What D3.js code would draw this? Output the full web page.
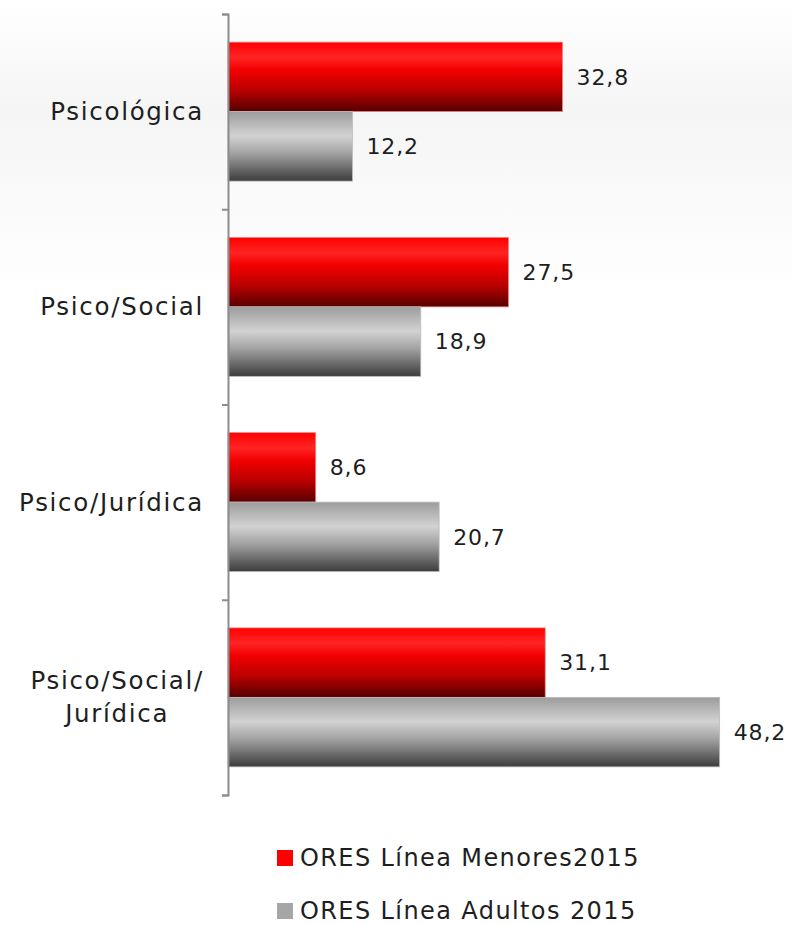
<!DOCTYPE html>
<html>
<head>
<meta charset="utf-8">
<script src="https://cdn.jsdelivr.net/npm/d3@7"></script>
<style>
  body { margin: 0; background: #fff; }
  text { font-family: "DejaVu Sans", Lato, sans-serif; fill: #1e1e1e; }
</style>
</head>
<body>
<svg></svg>
<script>
let categories = ["Psicológica", "Psico/Social", "Psico/Jurídica", "Psico/Social/\nJurídica"]
let seriesNames = ["ORES Línea Menores2015", "ORES Línea Adultos 2015"]
let menores = [32.8, 27.5, 8.6, 31.1]
let adultos = [12.2, 18.9, 20.7, 48.2]

let svgWidth = 792,
    svgHeight = 925

let svg = d3.select('svg')
    .attr('width', svgWidth)
    .attr('height', svgHeight)

let defs = svg.append('defs')

// soft grey band behind the top of the chart
let bg = defs.append('linearGradient').attr('id', 'bg')
    .attr('x1', 0).attr('y1', 0).attr('x2', 0).attr('y2', 1)
bg.append('stop').attr('offset', '0%').attr('stop-color', '#ffffff')
bg.append('stop').attr('offset', '12%').attr('stop-color', '#f5f5f5')
bg.append('stop').attr('offset', '32%').attr('stop-color', '#ffffff')
svg.append('rect')
    .attr('width', svgWidth).attr('height', svgHeight)
    .attr('fill', 'url(#bg)')

// glossy bar fills
let grads = [
    [['0%', '#ff0000'], ['22%', '#ff2424'], ['40%', '#f20000'], ['70%', '#b80000'], ['100%', '#550000']],
    [['0%', '#9c9c9c'], ['35%', '#d2d2d2'], ['60%', '#a2a2a2'], ['100%', '#3c3c3c']]
]
grads.forEach((stops, i) => {
    let g = defs.append('linearGradient').attr('id', 'bar' + i)
        .attr('x1', 0).attr('y1', 0).attr('x2', 0).attr('y2', 1)
    stops.forEach(s => g.append('stop').attr('offset', s[0]).attr('stop-color', s[1]))
})

let axisX = 228,
    plotTop = 14,
    plotBottom = 795

let x = d3.scaleLinear()
    .domain([0, 55])
    .range([axisX, axisX + 561])

let y = d3.scaleBand()
    .domain(categories)
    .range([plotTop, plotBottom])

let ySub = d3.scaleBand()
    .domain([0, 1])
    .range([0, y.bandwidth()])
    .paddingOuter(0.405)

let rows = categories.map((c, i) => ({cat: c, vals: [menores[i], adultos[i]]}))

let groups = svg.selectAll('.cat')
    .data(rows)
    .enter()
    .append('g')
    .attr('transform', d => `translate(0, ${y(d.cat)})`)

groups.selectAll('rect')
    .data(d => d.vals)
    .enter()
    .append('rect')
    .attr('x', x(0))
    .attr('y', (d, i) => ySub(i))
    .attr('width', d => x(d) - x(0))
    .attr('height', ySub.bandwidth())
    .attr('fill', (d, i) => `url(#bar${i})`)
    .attr('stroke', (d, i) => i == 0 ? '#e88' : '#bbb')
    .attr('stroke-width', 0.8)

groups.selectAll('.val')
    .data(d => d.vals)
    .enter()
    .append('text')
    .attr('x', d => x(d) + 14)
    .attr('y', (d, i) => ySub(i) + ySub.bandwidth() / 2)
    .attr('dy', '0.35em')
    .attr('font-size', 22)
    .attr('letter-spacing', 0.9)
    .text(d => String(d).replace('.', ','))

// axis with ticks on the category boundaries
let yIdx = d3.scaleLinear().domain([0, categories.length]).range([plotTop, plotBottom])
let axis = svg.append('g')
    .attr('transform', `translate(${axisX}, 0)`)
    .call(d3.axisLeft(yIdx).ticks(categories.length).tickFormat('').tickSizeOuter(0).tickSize(6))
axis.selectAll('path, line').attr('stroke', '#8c8c8c').attr('stroke-width', 2)

// category labels, multi line ones centred as a block
groups.each(function (d) {
    let lines = d.cat.split('\n')
    let t = d3.select(this).append('text')
        .attr('font-size', 24.5)
        .attr('letter-spacing', 1.7)
        .attr('text-anchor', 'middle')
    let lh = 33
    lines.forEach((l, k) => {
        t.append('tspan')
            .attr('x', 0)
            .attr('y', y.bandwidth() / 2 + (k - (lines.length - 1) / 2) * lh)
            .attr('dy', '0.35em')
            .text(l)
    })
    let w = d3.max(t.selectAll('tspan').nodes(), n => n.getComputedTextLength())
    t.selectAll('tspan').attr('x', 204 - w / 2)
})

// legend
let legend = svg.selectAll('.leg')
    .data(seriesNames)
    .enter()
    .append('g')
    .attr('transform', (d, i) => `translate(277, ${858 + i * 53})`)

legend.append('rect')
    .attr('x', 0).attr('y', -8)
    .attr('width', 16).attr('height', 16)
    .attr('fill', (d, i) => i == 0 ? '#ff0000' : '#a6a6a6')

legend.append('text')
    .attr('x', 23)
    .attr('dy', '0.35em')
    .attr('font-size', 24)
    .attr('letter-spacing', 1.4)
    .text(d => d)
</script>
</body>
</html>
